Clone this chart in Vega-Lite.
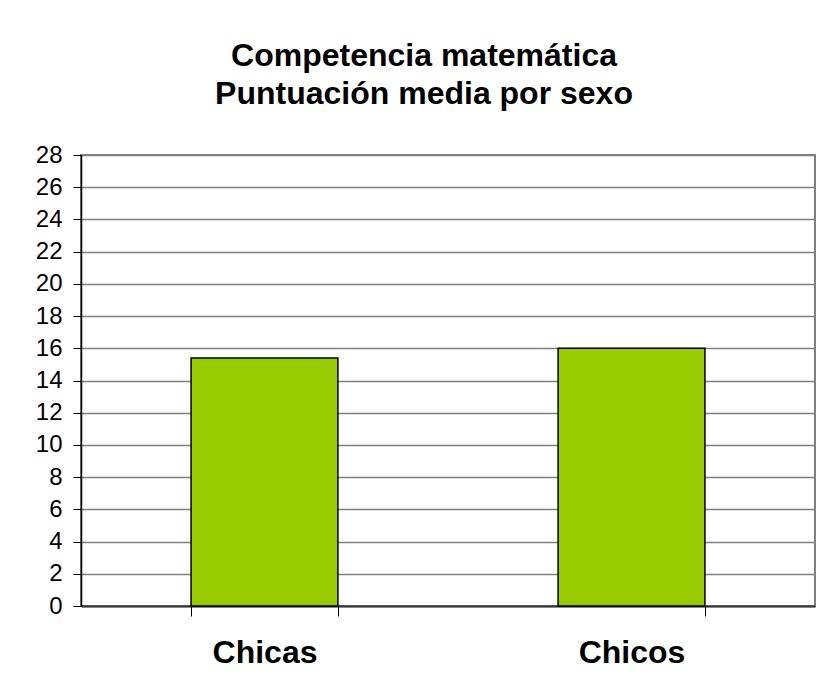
{
  "$schema": "https://vega.github.io/schema/vega-lite/v6.json",
  "width": 734,
  "height": 451,
  "autosize": "none",
  "padding": {"left": 81, "top": 155, "right": 4, "bottom": 71},
  "background": "white",
  "title": {
    "text": ["Competencia matemática", "Puntuación media por sexo"],
    "font": "Liberation Sans",
    "fontSize": 32,
    "fontWeight": "bold",
    "color": "black",
    "anchor": "middle",
    "dx": -24,
    "lineHeight": 38,
    "offset": 32
  },
  "data": {
    "values": [
      {"sexo": "Chicas", "puntuacion": 15.4},
      {"sexo": "Chicos", "puntuacion": 16.0}
    ]
  },
  "mark": {"type": "bar", "fill": "#99CC00", "stroke": "black", "strokeWidth": 1.5},
  "encoding": {
    "x": {
      "field": "sexo",
      "type": "nominal",
      "sort": null,
      "scale": {"paddingInner": 0.6, "paddingOuter": 0.3},
      "axis": {
        "title": null,
        "labelAngle": 0,
        "labelFont": "Liberation Sans",
        "labelFontSize": 32,
        "labelFontWeight": "bold",
        "labelColor": "black",
        "labelPadding": 21,
        "tickBand": "extent",
        "tickSize": 10,
        "tickColor": "black",
        "domainColor": "#333333",
        "domainWidth": 2,
        "grid": false
      }
    },
    "y": {
      "field": "puntuacion",
      "type": "quantitative",
      "scale": {"domain": [0, 28], "nice": false},
      "axis": {
        "title": null,
        "values": [0, 2, 4, 6, 8, 10, 12, 14, 16, 18, 20, 22, 24, 26, 28],
        "labelFont": "Liberation Sans",
        "labelFontSize": 24,
        "labelColor": "black",
        "labelPadding": 11,
        "tickSize": 8,
        "tickColor": "black",
        "domainColor": "black",
        "domainWidth": 1.5,
        "grid": true,
        "gridColor": "#808080",
        "gridWidth": 1.5
      }
    }
  },
  "config": {
    "view": {"stroke": "#808080", "strokeWidth": 2}
  }
}
